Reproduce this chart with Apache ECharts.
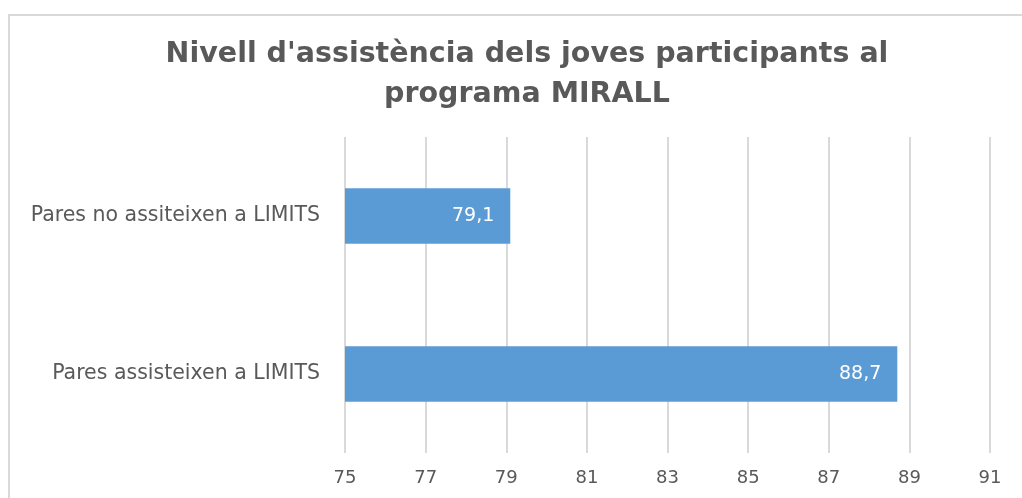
<!DOCTYPE html>
<html>
<head>
<meta charset="utf-8">
<script src="https://cdn.jsdelivr.net/npm/echarts@6/dist/echarts.min.js"></script>
<style>
  html, body { margin: 0; padding: 0; background: #fff; }
  #chart { width: 1022px; height: 498px; }
</style>
</head>
<body>
<div id="chart"></div>
<script>
// dades
var categories = ['Pares assisteixen a LIMITS', 'Pares no assiteixen a LIMITS'];
var values = [88.7, 79.1];
var titleText = "Nivell d'assistència dels joves participants al\nprograma MIRALL";

var chart = echarts.init(document.getElementById('chart'));

var option = {
	animation: false,
	textStyle: { fontFamily: 'DejaVu Sans' },
	title: {
		text: titleText,
		left: 522,
		top: 30,
		textAlign: 'center',
		textStyle: {
			fontFamily: 'DejaVu Sans',
			fontSize: 28.5,
			fontWeight: 'bold',
			color: '#595959',
			lineHeight: 40
		}
	},
	graphic: [{
		type: 'rect',
		shape: { x: 9, y: 15, width: 1100, height: 600 },
		style: { fill: 'none', stroke: '#d9d9d9', lineWidth: 2 },
		silent: true
	}],
	grid: {
		left: 345,
		right: 32,
		top: 137,
		bottom: 45
	},
	xAxis: {
		type: 'value',
		min: 75,
		max: 91,
		interval: 2,
		axisLine: { show: false },
		axisTick: { show: false },
		axisLabel: {
			color: '#595959',
			fontSize: 18,
			margin: 16
		},
		splitLine: {
			show: true,
			lineStyle: { color: '#d9d9d9', width: 2 }
		}
	},
	yAxis: {
		type: 'category',
		data: categories,
		axisLine: { show: false },
		axisTick: { show: false },
		axisLabel: {
			color: '#595959',
			fontSize: 20.5,
			margin: 25
		}
	},
	series: [{
		type: 'bar',
		data: values,
		barWidth: '35%',
		itemStyle: { color: '#5b9bd5' },
		label: {
			show: true,
			position: 'insideRight',
			distance: 16,
			color: '#ffffff',
			fontSize: 19,
			formatter: function (p) {
				return String(p.value).replace('.', ',');
			}
		}
	}]
};

chart.setOption(option);
</script>
</body>
</html>
